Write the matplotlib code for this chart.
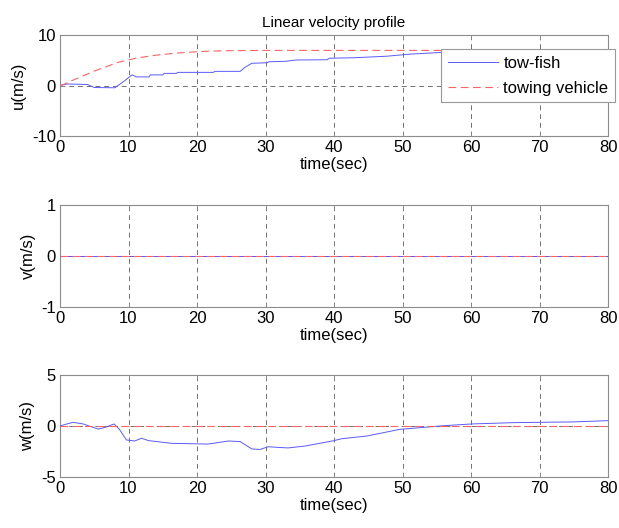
import matplotlib
matplotlib.use("Agg")
import matplotlib.pyplot as plt

# ---- data ----
t_u_fish = [0, 1, 4, 5, 8, 9.5, 10.5, 11.2, 13, 13.2, 15, 15.2, 17, 17.2, 22.4, 22.6,
            26.3, 27, 28, 30.2, 30.5, 33, 34.5, 39, 39.3, 43, 47.7, 51, 55, 60, 70, 80]
u_fish = [0, 0.3, 0.2, -0.4, -0.45, 1.0, 2.1, 1.7, 1.7, 2.1, 2.1, 2.4, 2.4, 2.6, 2.6, 2.8,
          2.8, 3.6, 4.4, 4.5, 4.7, 4.8, 5.05, 5.1, 5.4, 5.5, 5.8, 6.2, 6.5, 6.8, 7.0, 7.1]
t_u_veh = [0, 0.5, 1.7, 5.1, 8.5, 11.4, 14, 16.8, 19, 21.6, 25, 30, 80]
u_veh = [0, 0.2, 0.95, 2.9, 4.6, 5.5, 6.0, 6.4, 6.6, 6.8, 6.9, 6.95, 6.95]

t_v = [0, 80]
v_fish = [0, 0]
v_veh = [0, 0]

t_w_fish = [0, 1.0, 1.9, 3.4, 4.1, 5.6, 6.6, 7.9, 8.7, 9.7, 10.9, 11.9, 12.9, 16.3, 21.6,
            24.6, 26.3, 28, 29.2, 30.4, 31.9, 33.3, 35.8, 39.9, 41.1, 44.8, 49.6, 56, 60.1,
            66.2, 74.9, 79.8, 80]
w_fish = [0, 0.2, 0.36, 0.2, 0.03, -0.3, -0.13, 0.2, -0.35, -1.37, -1.47, -1.2, -1.43, -1.7, -1.77,
          -1.47, -1.53, -2.25, -2.3, -2.03, -2.1, -2.15, -1.96, -1.45, -1.25, -0.98, -0.33, 0.03, 0.2,
          0.33, 0.4, 0.52, 0.52]
t_w_veh = [0, 80]
w_veh = [0, 0]

xticks = [0, 10, 20, 30, 40, 50, 60, 70, 80]
yticks_u = [-10, 0, 10]
yticks_v = [-1, 0, 1]
yticks_w = [-5, 0, 5]

plt.rcParams['font.family'] = ['Liberation Sans', 'DejaVu Sans']
plt.rcParams['axes.unicode_minus'] = False

fig = plt.figure(figsize=(6.19, 5.28), dpi=100)
left, width = 60/619, 548/619
pos = [
    (1 - 136/528, 101/528),
    (1 - 307/528, 102/528),
    (1 - 477/528, 102/528),
]
blue = '#5a5aff'
red = '#ff6464'
spine_c = '#8c8c8c'

panels = [
    (t_u_fish, u_fish, t_u_veh, u_veh, yticks_u, 'u(m/s)'),
    (t_v, v_fish, t_v, v_veh, yticks_v, 'v(m/s)'),
    (t_w_fish, w_fish, t_w_veh, w_veh, yticks_w, 'w(m/s)'),
]
axes = []
for (b, h), (tf, yf, tv, yv, yt, yl) in zip(pos, panels):
    ax = fig.add_axes([left, b, width, h])
    ax.plot(tf, yf, color=blue, lw=0.7, label='tow-fish', zorder=3)
    ax.plot(tv, yv, color=red, lw=0.8, ls=(0, (7, 4)), label='towing vehicle', zorder=3)
    ax.set_xlim(0, 80)
    ax.set_ylim(yt[0], yt[-1])
    ax.set_xticks(xticks)
    ax.set_yticks(yt)
    ax.grid(True, color='#707070', lw=0.7, ls=(0, (5, 4)))
    ax.set_axisbelow(True)
    ax.tick_params(direction='in', length=3, width=0.6, colors=spine_c,
                   labelcolor='black', labelsize=12, top=True, right=True, pad=3)
    for s in ax.spines.values():
        s.set_color(spine_c)
        s.set_linewidth(0.8)
    ax.set_xlabel('time(sec)', fontsize=12, labelpad=1)
    ax.set_ylabel(yl, fontsize=12, labelpad=4)
    axes.append(ax)

axes[0].set_title('Linear velocity profile', fontsize=11, pad=6)
leg = axes[0].legend(loc='upper left', bbox_to_anchor=(0.695, 0.861), fontsize=12,
                     frameon=True, fancybox=False, edgecolor='#999999', framealpha=1,
                     handlelength=3.0, borderpad=0.4, labelspacing=0.6, handletextpad=0.35,
                     borderaxespad=0)
leg.get_frame().set_linewidth(0.8)
leg.set_zorder(5)

fig.savefig('out.png', dpi=100)
